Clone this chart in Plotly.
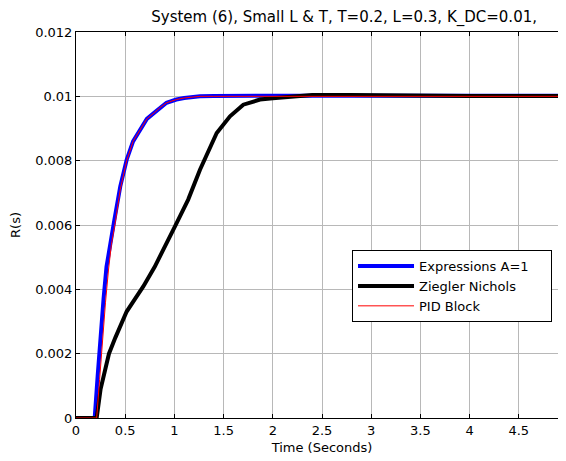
import plotly.graph_objects as go

# Time axis / series data
t_expr = [0, 0.19, 0.22, 0.25, 0.28, 0.31, 0.35, 0.39, 0.45, 0.515, 0.58, 0.65, 0.72, 0.8, 0.854, 0.92, 1.02, 1.1, 1.26, 1.4, 2.0, 3.0, 4.0, 5.0]
r_expr = [0, 0, 0.0013, 0.0026, 0.0037, 0.0047, 0.0055, 0.00616, 0.0072, 0.00803, 0.0086, 0.00896, 0.0093, 0.0095, 0.00965, 0.0098, 0.0099, 0.00995, 0.0100, 0.01001, 0.01002, 0.01002, 0.01002, 0.01002]

t_zn = [0, 0.21, 0.25, 0.3, 0.335, 0.4, 0.515, 0.6, 0.684, 0.8, 0.854, 0.9, 1.006, 1.14, 1.26, 1.43, 1.565, 1.7, 1.87, 2.0, 2.2, 2.4, 2.8, 3.26, 3.5, 4.0, 5.0]
r_zn = [0, 0, 0.0009, 0.0016, 0.0020, 0.0025, 0.00331, 0.0037, 0.00409, 0.0047, 0.00502, 0.0053, 0.00596, 0.00679, 0.00772, 0.00886, 0.00938, 0.00974, 0.0099, 0.00994, 0.00998, 0.01004, 0.01004, 0.01003, 0.01001, 0.01001, 0.01001]

t_pid = [0, 0.21, 0.24, 0.27, 0.3, 0.33, 0.36, 0.4, 0.45, 0.515, 0.58, 0.65, 0.72, 0.8, 0.854, 0.92, 1.02, 1.1, 1.26, 1.4, 2.0, 3.0, 4.0, 5.0]
r_pid = [0, 0, 0.0012, 0.0025, 0.0036, 0.0046, 0.0054, 0.0061, 0.0071, 0.0080, 0.0086, 0.00895, 0.0093, 0.0095, 0.00965, 0.0098, 0.0099, 0.00995, 0.0100, 0.0100, 0.0100, 0.0100, 0.0100, 0.0100]

series_names = ["Expressions A=1", "Ziegler Nichols", "PID Block"]

x_ticks = [0, 0.5, 1, 1.5, 2, 2.5, 3, 3.5, 4, 4.5, 5]
x_tick_text = ["0", "0.5", "1", "1.5", "2", "2.5", "3", "3.5", "4", "4.5", "5"]
y_ticks = [0, 0.002, 0.004, 0.006, 0.008, 0.01, 0.012]
y_tick_text = ["0", "0.002", "0.004", "0.006", "0.008", "0.01", "0.012"]

FONT = "DejaVu Sans, Liberation Sans, Arial, sans-serif"
PAD = "\u00a0" * 4  # extra room at the right of the legend box

fig = go.Figure()
fig.add_trace(go.Scatter(x=t_expr, y=r_expr, mode="lines", name=series_names[0] + PAD,
                         line=dict(color="#0000ff", width=4)))
fig.add_trace(go.Scatter(x=t_zn, y=r_zn, mode="lines", name=series_names[1],
                         line=dict(color="#000000", width=4)))
fig.add_trace(go.Scatter(x=t_pid, y=r_pid, mode="lines", name=series_names[2],
                         line=dict(color="#ff0000", width=1)))

axis_common = dict(showline=True, linecolor="black", linewidth=1, mirror="ticks",
                   ticks="inside", ticklen=4, tickcolor="black",
                   showgrid=True, gridcolor="#b8b8b8", gridwidth=1, zeroline=False,
                   automargin=False,
                   tickfont=dict(family=FONT, size=13, color="black"))

fig.update_xaxes(range=[0, 5], tickvals=x_ticks, ticktext=x_tick_text,
                 title=dict(text="Time (Seconds)", font=dict(family=FONT, size=13, color="black"), standoff=6),
                 **axis_common)
fig.update_yaxes(range=[0, 0.012], tickvals=y_ticks, ticktext=y_tick_text,
                 title=dict(text="R(s)", font=dict(family=FONT, size=13, color="black"), standoff=19),
                 **axis_common)

fig.update_layout(
    width=566, height=461,
    margin=dict(l=68, r=6, t=24, b=51, autoexpand=False),
    paper_bgcolor="white", plot_bgcolor="white",
    font=dict(family=FONT, size=13, color="black"),
    title=dict(text="System (6), Small L & T, T=0.2, L=0.3, K_DC=0.01,",
               x=0.545, xref="paper", xanchor="center",
               y=0.9816, yref="container", yanchor="middle",
               font=dict(family=FONT, size=15, color="black")),
    legend=dict(x=0.561, y=0.435, xanchor="left", yanchor="top",
                bgcolor="white", bordercolor="black", borderwidth=1,
                font=dict(family=FONT, size=13, color="black"),
                itemwidth=56, tracegroupgap=0),
    showlegend=True,
)

fig.write_html("out.html")
